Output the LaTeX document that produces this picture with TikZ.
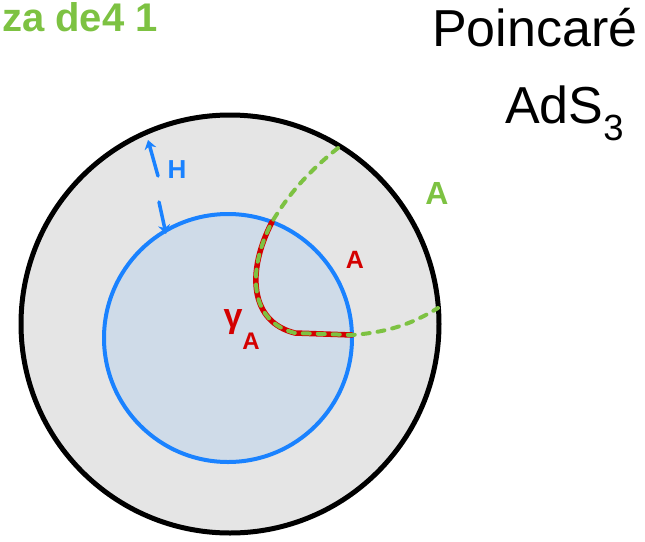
\documentclass[tikz,border=0pt]{standalone}
\usepackage{fontspec}
\setmainfont{Liberation Sans}
\usetikzlibrary{arrows.meta}
\definecolor{outerfill}{HTML}{E5E5E5}
\definecolor{innerfill}{HTML}{CFDBE8}
\definecolor{hblue}{HTML}{1A82FF}
\definecolor{hred}{HTML}{D40000}
\definecolor{hgreen}{HTML}{7DC242}
\tikzset{
  hand/.style={line cap=round,line join=round},
  greendash/.style={hand,draw=hgreen,line width=4pt,dash pattern=on 7pt off 8pt},
  redline/.style={hand,draw=hred,line width=5.5pt},
  lbl/.style={inner sep=0pt}
}
\begin{document}
\begin{tikzpicture}[x=1pt,y=-1pt]
\useasboundingbox (0,0) rectangle (645,541);
% disks
\draw[line width=5pt,fill=outerfill] (230,324) circle (209);
\draw[line width=4pt,draw=hblue,fill=innerfill] (228,338) circle (124);
% red geodesic
\draw[redline] (272,222) .. controls (246,272) and (250,322) .. (295,333) -- (352,335);
% green dashed curves
\draw[greendash] (338,148) .. controls (308,172) and (288,195) .. (272,222)
   .. controls (246,272) and (250,322) .. (295,333) -- (352,335)
   .. controls (392,332) and (415,322) .. (438,308);
% r_H arrows
\coordinate (rt) at (148,140);
\coordinate (rb) at (166,234);
\draw[hand,hblue,line width=3.5pt,-{Stealth[length=9pt,width=12pt]}] (158,176) -- (rt);
\draw[hand,hblue,line width=3.5pt,-{Stealth[length=9pt,width=12pt]}] (159,202) -- (rb);
\node[lbl,text=hblue,font=\bfseries\fontsize{26}{26}\selectfont] (rH) at (177,170) {H};
% labels
\node[lbl,text=hred,font=\bfseries\fontsize{34}{34}\selectfont] (gam) at (233,322) {γ};
\node[lbl,text=hred,font=\bfseries\fontsize{24}{24}\selectfont] (gamA) at (251,341) {A};
\node[lbl,text=hred,font=\bfseries\fontsize{25}{25}\selectfont] (Ar) at (355,260) {A};
\node[lbl,text=hgreen,font=\bfseries\fontsize{32}{32}\selectfont] (Ag) at (437,193) {A};
\node[lbl,anchor=north west,font=\fontsize{52}{52}\selectfont] (poinc) at (432,8) {Poincaré};
\node[lbl,anchor=north west,font=\fontsize{52}{52}\selectfont] (ads) at (505,86) {AdS\textsubscript{3}};
\node[lbl,anchor=north west,text=hgreen,font=\bfseries\fontsize{40}{40}\selectfont] (za) at (2,2) {za de4 1};
\end{tikzpicture}
\end{document}
